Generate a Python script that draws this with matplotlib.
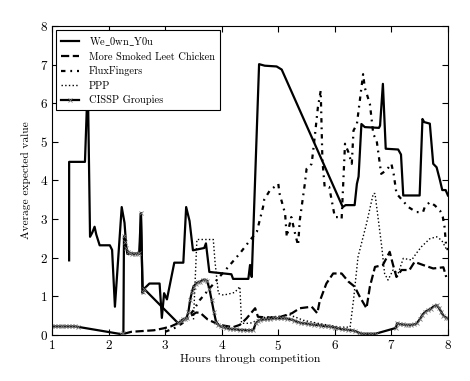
import numpy as np
import matplotlib
matplotlib.use('Agg')
import matplotlib.pyplot as plt

plt.rcParams['font.family'] = ['cmr10', 'DejaVu Serif']
plt.rcParams['axes.formatter.use_mathtext'] = True
plt.rcParams['mathtext.fontset'] = 'cm'

# Series
wo_x = [1.30, 1.30, 1.58, 1.63, 1.67, 1.71, 1.75, 1.78, 1.84, 2.02, 2.06, 2.11, 2.23, 2.28, 2.31,
        2.33, 2.55, 2.57, 2.60, 2.63, 2.72, 2.90, 2.94, 2.98, 3.03, 3.16, 3.32, 3.37, 3.43, 3.49,
        3.69, 3.72, 3.78, 4.17, 4.20, 4.47, 4.50, 4.53, 4.66, 4.76, 4.97, 5.06, 6.14, 6.19, 6.35,
        6.39, 6.42, 6.47, 6.53, 6.78, 6.80, 6.85, 6.90, 7.12, 7.17, 7.21, 7.50, 7.55, 7.58, 7.68,
        7.74, 7.80, 7.86, 7.90, 7.96, 8.00]
wo_y = [1.93, 4.48, 4.48, 6.60, 2.54, 2.65, 2.80, 2.60, 2.32, 2.32, 2.20, 0.73, 3.31, 2.90, 2.28,
        2.10, 2.10, 3.15, 1.08, 1.20, 1.33, 1.33, 0.44, 1.08, 0.92, 1.87, 1.87, 3.31, 2.95, 2.19,
        2.25, 2.37, 1.63, 1.57, 1.45, 1.45, 1.81, 1.50, 7.01, 6.97, 6.95, 6.87, 3.31, 3.36, 3.36,
        3.91, 4.10, 5.46, 5.38, 5.36, 5.42, 6.50, 4.82, 4.80, 4.67, 3.61, 3.61, 5.59, 5.51, 5.47,
        4.43, 4.34, 4.00, 3.75, 3.75, 3.61]

ms_x = [2.27, 2.40, 2.60, 2.80, 2.97, 3.10, 3.25, 3.40, 3.55, 3.62, 3.75, 3.90, 4.00, 4.20, 4.32,
        4.44, 4.59, 4.64, 4.80, 5.00, 5.24, 5.38, 5.59, 5.69, 5.73, 5.85, 5.97, 6.12, 6.24, 6.35,
        6.44, 6.56, 6.62, 6.71, 6.85, 6.97, 7.03, 7.09, 7.18, 7.32, 7.41, 7.56, 7.74, 7.92, 7.97]
ms_y = [0.03, 0.08, 0.10, 0.12, 0.17, 0.22, 0.32, 0.45, 0.58, 0.57, 0.40, 0.30, 0.25, 0.20, 0.26,
        0.43, 0.69, 0.47, 0.45, 0.45, 0.56, 0.69, 0.73, 0.56, 0.86, 1.33, 1.59, 1.59, 1.38, 1.25,
        0.99, 0.69, 1.25, 1.76, 1.81, 2.15, 1.81, 1.50, 1.68, 1.68, 1.89, 1.81, 1.72, 1.75, 1.50]

ff_x = [3.00, 3.20, 3.35, 3.50, 3.61, 3.76, 3.91, 4.09, 4.32, 4.50, 4.62, 4.73, 4.75, 4.85, 5.00,
        5.02, 5.12, 5.15, 5.23, 5.30, 5.35, 5.38, 5.47, 5.50, 5.59, 5.65, 5.70, 5.75, 5.78, 5.82,
        5.90, 6.00, 6.06, 6.12, 6.18, 6.24, 6.30, 6.33, 6.39, 6.50, 6.53, 6.62, 6.68, 6.74, 6.82,
        6.91, 7.00, 7.04, 7.09, 7.30, 7.44, 7.56, 7.59, 7.68, 7.77, 7.86, 7.91, 7.94, 7.97, 8.00]
ff_y = [0.08, 0.20, 0.35, 0.64, 0.90, 1.16, 1.42, 1.72, 2.11, 2.45, 2.67, 3.31, 3.50, 3.74, 3.91,
        3.67, 3.14, 2.54, 3.05, 2.60, 2.32, 2.97, 3.92, 4.30, 4.43, 5.20, 5.89, 6.32, 4.52, 3.83,
        3.83, 3.05, 3.05, 3.00, 4.95, 4.73, 4.43, 5.29, 5.46, 6.75, 6.40, 5.98, 5.20, 5.03, 4.17,
        4.26, 4.43, 4.17, 3.66, 3.31, 3.18, 3.18, 3.31, 3.44, 3.35, 3.22, 3.05, 2.80, 2.28, 2.20]

pp_x = [3.50, 3.56, 3.85, 3.88, 3.94, 4.03, 4.15, 4.23, 4.32, 4.35, 4.50, 4.77, 5.00, 5.20, 5.44,
        5.70, 6.09, 6.27, 6.33, 6.41, 6.56, 6.68, 6.71, 6.77, 6.83, 6.88, 6.94, 7.03, 7.12, 7.21,
        7.36, 7.44, 7.53, 7.68, 7.80, 7.89, 7.98]
pp_y = [0.40, 2.47, 2.47, 1.90, 1.07, 1.03, 1.07, 1.10, 1.25, 0.30, 0.30, 0.46, 0.48, 0.52, 0.38,
        0.30, 0.20, 0.20, 0.90, 2.02, 2.88, 3.66, 3.66, 2.97, 2.28, 1.59, 1.42, 1.68, 1.59, 1.98,
        1.94, 2.11, 2.28, 2.49, 2.54, 2.45, 2.20]

cg_x = [1.00, 1.05, 1.10, 1.15, 1.20, 1.25, 1.30, 1.35, 1.40, 1.45, 2.22, 2.26, 2.27, 2.29, 2.31,
        2.34, 2.38, 2.42, 2.46, 2.50, 2.54, 2.57, 2.60, 2.62, 3.23, 3.27, 3.31, 3.35, 3.38, 3.41,
        3.44, 3.47, 3.50, 3.54, 3.58, 3.62, 3.66, 3.70, 3.74, 3.78, 3.82, 3.86, 3.90, 3.94, 3.98,
        4.03, 4.08, 4.14, 4.20, 4.26, 4.32, 4.38, 4.44, 4.50, 4.56, 4.60, 4.64, 4.68, 4.74, 4.80,
        4.86, 4.92, 4.98, 5.04, 5.10, 5.16, 5.22, 5.28, 5.34, 5.40, 5.46, 5.52, 5.58, 5.64, 5.70,
        5.76, 5.82, 5.88, 5.94, 6.00, 6.06, 6.12, 6.18, 6.24, 6.30, 6.36, 6.42, 6.48, 6.54, 6.60,
        6.66, 6.72, 7.08, 7.10, 7.15, 7.20, 7.25, 7.30, 7.35, 7.40, 7.45, 7.50, 7.55, 7.60, 7.65,
        7.70, 7.75, 7.80, 7.84, 7.88, 7.92, 7.96, 8.00]
cg_y = [0.22, 0.22, 0.22, 0.22, 0.22, 0.22, 0.22, 0.22, 0.22, 0.21, 0.02, 0.04, 2.55, 2.40, 2.25,
        2.15, 2.12, 2.10, 2.10, 2.10, 2.13, 3.15, 1.10, 1.20, 0.30, 0.35, 0.40, 0.42, 0.45, 0.60,
        0.90, 1.10, 1.25, 1.32, 1.36, 1.38, 1.42, 1.43, 1.40, 1.20, 0.90, 0.60, 0.33, 0.26, 0.22,
        0.20, 0.18, 0.16, 0.15, 0.14, 0.13, 0.13, 0.12, 0.12, 0.13, 0.30, 0.35, 0.39, 0.40, 0.41,
        0.42, 0.43, 0.43, 0.43, 0.43, 0.42, 0.40, 0.37, 0.34, 0.31, 0.30, 0.29, 0.27, 0.26, 0.26,
        0.24, 0.23, 0.22, 0.21, 0.19, 0.17, 0.15, 0.14, 0.13, 0.12, 0.10, 0.06, 0.03, 0.03, 0.03,
        0.03, 0.03, 0.18, 0.30, 0.28, 0.27, 0.26, 0.26, 0.26, 0.27, 0.30, 0.40, 0.52, 0.60, 0.64,
        0.68, 0.74, 0.77, 0.70, 0.60, 0.50, 0.45, 0.43]

fig = plt.figure(figsize=(4.7, 3.81), dpi=100)
ax = fig.add_axes([0.111, 0.121, 0.842, 0.811])

ax.plot(wo_x, wo_y, 'k-', lw=1.6, label=r'We$\_$0wn$\_$Y0u')
ax.plot(ms_x, ms_y, 'k--', lw=1.6, label='More Smoked Leet Chicken')
ax.plot(ff_x, ff_y, 'k-.', lw=1.6, dashes=[2.0, 2.2, 0.8, 2.2], label='FluxFingers')
ax.plot(pp_x, pp_y, 'k:', lw=1.0, label='PPP')
ax.plot(cg_x, cg_y, 'k-', lw=1.6, marker='x', ms=3.5, mew=0.6, mec='0.45',
        label='CISSP Groupies')

ax.set_xlim(1, 8)
ax.set_ylim(0, 8)
ax.set_xticks(range(1, 9))
ax.set_yticks(range(0, 9))
ax.tick_params(direction='in', top=True, right=True, labelsize=9.5, length=4, pad=3)
ax.set_xlabel('Hours through competition', fontsize=8.5, labelpad=1)
ax.set_ylabel('Average expected value', fontsize=8.2, labelpad=6)

leg = ax.legend(loc='upper left', fontsize=7.5, fancybox=False, framealpha=1,
                edgecolor='k', borderaxespad=0.35, handlelength=1.7,
                handletextpad=1.0, labelspacing=0.45, borderpad=0.5)
leg.get_frame().set_linewidth(0.8)

fig.savefig('out.png', dpi=100)
